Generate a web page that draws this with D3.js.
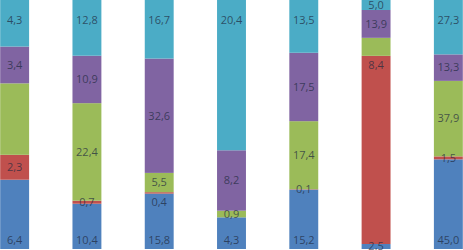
<!DOCTYPE html>
<html>
<head>
<meta charset="utf-8">
<script src="https://cdn.jsdelivr.net/npm/d3@7"></script>
<style>
  html, body { margin: 0; padding: 0; background: #fff; overflow: hidden; }
</style>
</head>
<body>
<svg id="chart"></svg>
<script>
// categories (not shown on the crop)
const categories = ["A", "B", "C", "D", "E", "F", "G"];
const seriesNames = ["blue", "red", "green", "purple", "cyan"];

// segment sizes, bottom to top
const blueValues   = [6.4, 10.4, 15.8, 4.3, 15.2, 2.5, 45.0];
const redValues    = [2.3, 0.7, 0.4, 0.0, 0.1, 94.0, 1.5];
const greenValues  = [6.6, 22.4, 5.5, 0.9, 17.4, 9.0, 37.9];
const purpleValues = [3.4, 10.9, 32.6, 8.2, 17.5, 13.9, 13.3];
const cyanValues   = [4.3, 12.8, 16.7, 20.4, 13.5, 5.0, 27.3];

// label text printed in the segments (null = no label)
const blueLabels   = ["6,4", "10,4", "15,8", "4,3", "15,2", "2,5", "45,0"];
const redLabels    = ["2,3", "0,7", "0,4", null, "0,1", "8,4", "1,5"];
const greenLabels  = [null, "22,4", "5,5", "0,9", "17,4", null, "37,9"];
const purpleLabels = ["3,4", "10,9", "32,6", "8,2", "17,5", "13,9", "13,3"];
const cyanLabels   = ["4,3", "12,8", "16,7", "20,4", "13,5", "5,0", "27,3"];

const colors = ["#4f81bd", "#c0504d", "#9bbb59", "#8064a2", "#4bacc6"];

class StackedChart {

  constructor(config) {
    this.config = {
      parent: config.parent,
      width: config.width || 463,
      height: config.height || 250
    }
    this.init();
  }

  init() {
    let self = this;

    self.svg = d3.select(self.config.parent)
      .attr('width', self.config.width)
      .attr('height', self.config.height);

    self.chart = self.svg.append('g');

    // the picture is a crop: first and last bars run past the edges
    self.xscale = d3.scaleBand()
      .range([-21.5, 484.5])
      .paddingInner(0.6)
      .paddingOuter(0.3);

    self.yscale = d3.scaleLinear()
      .domain([0, 1])
      .range([249, 0]);

    const values = [blueValues, redValues, greenValues, purpleValues, cyanValues];
    const labels = [blueLabels, redLabels, greenLabels, purpleLabels, cyanLabels];

    self.data = categories.map((c, i) => {
      let row = { category: c, index: i };
      seriesNames.forEach((s, j) => { row[s] = values[j][i]; });
      return row;
    });
    self.labels = labels;

    self.update();
  }

  update() {
    let self = this;

    self.xscale.domain(categories);

    self.stacked = d3.stack()
      .keys(seriesNames)
      .offset(d3.stackOffsetExpand)(self.data);

    self.render();
  }

  render() {
    let self = this;
    const last = seriesNames.length - 1;

    const layers = self.chart.selectAll('g.layer')
      .data(self.stacked)
      .enter()
      .append('g')
      .attr('class', 'layer')
      .attr('fill', (d, i) => colors[i]);

    layers.selectAll('rect')
      .data(d => d)
      .enter()
      .append('rect')
      .attr('x', d => self.xscale(d.data.category))
      .attr('y', d => self.yscale(d[1]))
      .attr('width', self.xscale.bandwidth())
      .attr('height', d => self.yscale(d[0]) - self.yscale(d[1]));

    // labels, per bar from top to bottom so crowded ones can be pushed down
    categories.forEach((c, i) => {
      let prevY = -Infinity;
      for (let j = last; j >= 0; j--) {
        const text = self.labels[j][i];
        if (text === null) continue;
        const d = self.stacked[j][i];
        const top = self.yscale(d[1]);
        const bottom = self.yscale(d[0]);
        let y = (top + bottom) / 2;
        if (j === last) y = Math.min(y, top + 20);
        else if (j === 0) y = Math.max(y, bottom - 9);
        else if (bottom - top > 150) y = top + 9;
        if (y < prevY + 12) y = prevY + 20;
        prevY = y;

        self.chart.append('text')
          .attr('x', self.xscale(c) + self.xscale.bandwidth() / 2)
          .attr('y', y)
          .attr('dy', '0.35em')
          .attr('text-anchor', 'middle')
          .attr('font-family', 'Open Sans, sans-serif')
          .attr('font-size', 11)
          .attr('fill', '#1f2a40')
          .attr('fill-opacity', 0.72)
          .text(text);
      }
    });
  }
}

const chart = new StackedChart({ parent: '#chart' });
</script>
</body>
</html>
